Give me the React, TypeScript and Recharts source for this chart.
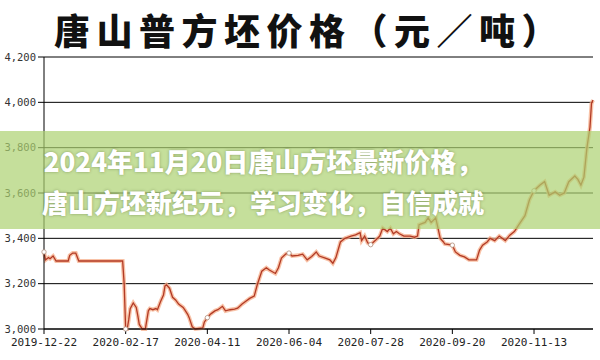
import React from 'react';
import { LineChart, Line, XAxis, YAxis, CartesianGrid } from 'recharts';

const dayIndex = [
  0, 1, 3, 4, 6, 8, 16, 17, 19, 21, 23, 52, 53, 54, 55, 56, 57, 59, 61, 62, 63, 65, 67, 69, 70, 72, 74, 75,
  77, 79, 80, 81, 83, 85, 87, 89, 90, 92, 93, 95, 96, 98, 100, 105, 106, 108, 110, 111, 113, 115, 118, 120,
  123, 126, 128, 131, 133, 136, 139, 141, 144, 147, 149, 153, 155, 157, 160, 162, 164, 168, 171, 174, 177,
  180, 182, 186, 189, 191, 193, 196, 199, 203, 206, 209, 210, 212, 214, 216, 219, 222, 224, 227, 229, 231,
  233, 235, 238, 242, 245, 247, 248, 252, 254, 256, 259, 260, 262, 264, 265, 270, 272, 275, 278, 281, 286,
  288, 290, 293, 295, 298, 301, 305, 308, 311, 312, 314, 318, 321, 324, 328, 331, 334, 338, 341, 344, 347,
  351, 353, 355, 357, 359, 361, 362, 363,
];
const price = [
  3340, 3305, 3315, 3310, 3322, 3300, 3300, 3325, 3335, 3335, 3300, 3300, 3200, 3000, 3000, 3040, 3090, 3115,
  3095, 3060, 3020, 3000, 3000, 3080, 3090, 3085, 3090, 3085, 3120, 3150, 3190, 3195, 3180, 3140, 3128, 3110,
  3105, 3095, 3085, 3065, 3050, 3010, 3000, 3005, 3030, 3050, 3065, 3070, 3080, 3085, 3100, 3080, 3085, 3088,
  3092, 3110, 3120, 3135, 3145, 3195, 3255, 3270, 3260, 3245, 3270, 3313, 3332, 3335, 3322, 3325, 3330, 3305,
  3320, 3340, 3322, 3313, 3305, 3290, 3315, 3384, 3400, 3410, 3415, 3425, 3390, 3410, 3380, 3372, 3390, 3410,
  3445, 3430, 3445, 3420, 3430, 3420, 3410, 3410, 3405, 3410, 3460, 3470, 3490, 3470, 3490, 3460, 3400, 3385,
  3375, 3370, 3340, 3325, 3318, 3305, 3305, 3348, 3370, 3384, 3400, 3390, 3410, 3390, 3414, 3430, 3440, 3460,
  3500, 3570, 3610, 3635, 3650, 3590, 3605, 3590, 3600, 3650, 3675, 3660, 3635, 3670, 3800, 3890, 3995, 4010,
];
const tickDays = [0, 54, 108, 162, 216, 270, 324];
const tickLabels = ['2019-12-22', '2020-02-17', '2020-04-11', '2020-06-04', '2020-07-28', '2020-09-20', '2020-11-13'];
const yTicks = [3000, 3200, 3400, 3600, 3800, 4000, 4200];
const titleText = '唐山普方坯价格（元／吨）';
const bannerLines = ['2024年11月20日唐山方坯最新价格，', '唐山方坯新纪元，学习变化，自信成就'];

const data = dayIndex.map((d, i) => ({ d, p: price[i] }));

const fmtX = (v: number) => {
  const i = tickDays.indexOf(v);
  return i >= 0 ? tickLabels[i] : '';
};
const fmtY = (v: number) => v.toLocaleString('en-US');

const TickDot = (props: any) => {
  const { cx, cy, payload, index } = props;
  if (!payload || tickDays.indexOf(payload.d) < 0) return <g key={`n${index}`} />;
  return <circle key={`c${index}`} cx={cx} cy={cy} r={2.2} fill="#fff" stroke="#b09080" strokeWidth={0.8} />;
};

export default function App() {
  return (
    <div style={{ position: 'absolute', left: 0, top: 0, width: 600, height: 360, background: '#fff', overflow: 'hidden' }}>
      <LineChart width={600} height={360} data={data} margin={{ top: 57, right: 7, left: 0, bottom: 0 }}>
        <CartesianGrid vertical={false} stroke="#000" strokeWidth={1} />
        <XAxis
          dataKey="d"
          type="number"
          domain={[0, 363]}
          ticks={tickDays}
          tickFormatter={fmtX}
          interval={0}
          height={31}
          stroke="#000"
          tickSize={5}
          tickMargin={4}
          tick={{ fill: '#222', fontSize: 11, fontFamily: 'DejaVu Sans Mono' }}
        />
        <YAxis
          type="number"
          domain={[3000, 4200]}
          ticks={yTicks}
          tickFormatter={fmtY}
          width={44}
          stroke="#000"
          tickSize={6}
          tickMargin={2}
          tick={{ fill: '#333', fontSize: 10.5, fontFamily: 'DejaVu Sans Mono' }}
        />
        <Line
          dataKey="p"
          type="linear"
          stroke="#f6ad8a"
          strokeWidth={4}
          strokeOpacity={0.75}
          dot={false}
          isAnimationActive={false}
        />
        <Line
          dataKey="p"
          type="linear"
          stroke="#b23a25"
          strokeWidth={1.3}
          dot={TickDot}
          isAnimationActive={false}
        />
      </LineChart>
      <div
        style={{
          position: 'absolute',
          left: 54,
          top: 8,
          whiteSpace: 'nowrap',
          fontFamily: '"Noto Sans CJK SC"',
          fontWeight: 900,
          fontSize: 36,
          letterSpacing: 6.5,
          lineHeight: '42px',
          color: '#111',
        }}
      >
        {titleText}
      </div>
      <div
        style={{
          position: 'absolute',
          left: 0,
          top: 131,
          width: 600,
          height: 98,
          background: 'rgba(172, 210, 112, 0.7)',
        }}
      />
      <div
        style={{
          position: 'absolute',
          left: 0,
          top: 140,
          width: 526,
          textAlign: 'center',
          fontFamily: '"Noto Sans CJK SC"',
          fontWeight: 900,
          fontSize: 26,
          lineHeight: '41px',
          color: '#fff',
          textShadow: '0 0 3px rgba(60,80,30,0.45)',
          whiteSpace: 'nowrap',
        }}
      >
        <div>{bannerLines[0]}</div>
        <div>{bannerLines[1]}</div>
      </div>
    </div>
  );
}
